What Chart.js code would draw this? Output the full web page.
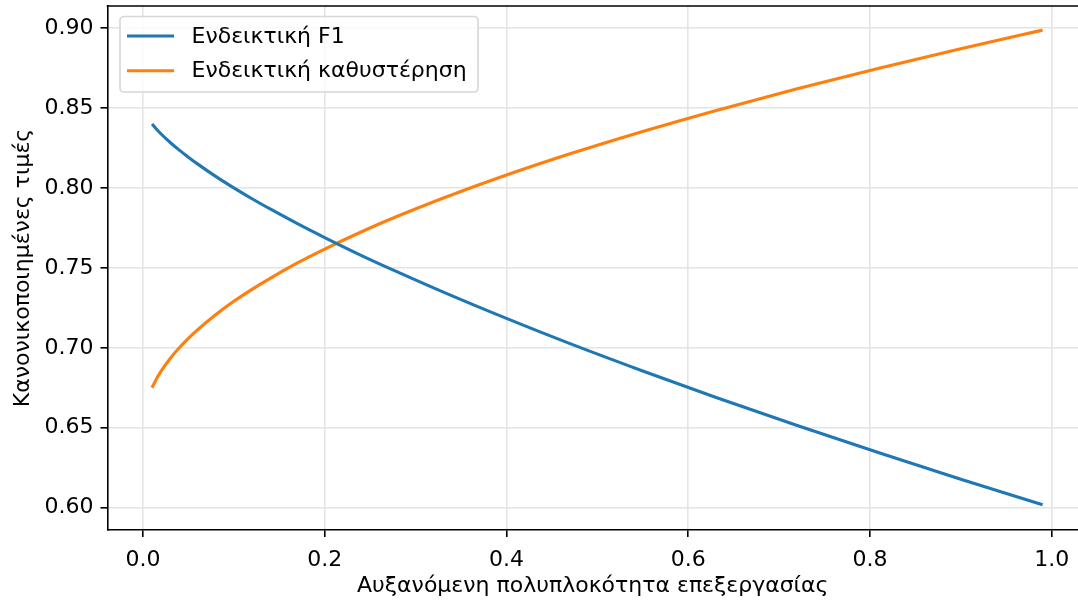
<!DOCTYPE html>
<html>
<head>
<meta charset="utf-8">
<script src="https://cdn.jsdelivr.net/npm/chart.js@4.4.1/dist/chart.umd.min.js"></script>
<style>
  html, body { margin: 0; padding: 0; background: #ffffff; }
  #wrap { width: 1078px; height: 605px; position: relative; }
</style>
</head>
<body>
<div id="wrap"><canvas id="c" width="1078" height="605"></canvas></div>
<script>
// ---- data ----
const xValues = [0.01, 0.015, 0.02, 0.03, 0.04, 0.05, 0.06, 0.08, 0.10, 0.12, 0.14, 0.17, 0.20, 0.24, 0.28, 0.33, 0.40, 0.47, 0.55, 0.63, 0.72, 0.81, 0.90, 0.99];
const f1Values = [0.8401, 0.8368, 0.8338, 0.8285, 0.8237, 0.8193, 0.8151, 0.8073, 0.8001, 0.7933, 0.7869, 0.7777, 0.7690, 0.7579, 0.7475, 0.7350, 0.7184, 0.7026, 0.6855, 0.6691, 0.6514, 0.6343, 0.6178, 0.6018];
const delayValues = [0.6750, 0.6806, 0.6854, 0.6933, 0.7000, 0.7059, 0.7112, 0.7207, 0.7291, 0.7366, 0.7435, 0.7531, 0.7618, 0.7725, 0.7823, 0.7936, 0.8081, 0.8214, 0.8354, 0.8484, 0.8621, 0.8750, 0.8872, 0.8988];
const seriesNames = ['Ενδεικτική F1', 'Ενδεικτική καθυστέρηση'];
const xTicks = [0.0, 0.2, 0.4, 0.6, 0.8, 1.0];
const xTickLabels = ['0.0', '0.2', '0.4', '0.6', '0.8', '1.0'];
const yTicks = [0.60, 0.65, 0.70, 0.75, 0.80, 0.85, 0.90];
const yTickLabels = ['0.60', '0.65', '0.70', '0.75', '0.80', '0.85', '0.90'];
const xTitle = 'Αυξανόμενη πολυπλοκότητα επεξεργασίας';
const yTitle = 'Κανονικοποιημένες τιμές';

const FONT = "'DejaVu Sans', 'Liberation Sans', sans-serif";
const FS = 22;
const colors = ['#1f77b4', '#ff7f0e'];

const toPoints = ys => xValues.map((x, i) => ({ x: x, y: ys[i] }));

const legendPlugin = {
  id: 'mplLegend',
  afterDatasetsDraw(chart) {
    const ctx = chart.ctx;
    const area = chart.chartArea;
    ctx.save();
    // top spine
    ctx.strokeStyle = '#000';
    ctx.lineWidth = 1.6;
    ctx.beginPath();
    ctx.moveTo(area.left - 0.8, area.top);
    ctx.lineTo(area.right, area.top);
    ctx.stroke();

    // legend box
    const bx = 120, by = 16.5, bw = 358, bh = 75.5, r = 4;
    ctx.beginPath();
    ctx.moveTo(bx + r, by);
    ctx.lineTo(bx + bw - r, by);
    ctx.arcTo(bx + bw, by, bx + bw, by + r, r);
    ctx.lineTo(bx + bw, by + bh - r);
    ctx.arcTo(bx + bw, by + bh, bx + bw - r, by + bh, r);
    ctx.lineTo(bx + r, by + bh);
    ctx.arcTo(bx, by + bh, bx, by + bh - r, r);
    ctx.lineTo(bx, by + r);
    ctx.arcTo(bx, by, bx + r, by, r);
    ctx.closePath();
    ctx.fillStyle = 'rgba(255,255,255,0.8)';
    ctx.fill();
    ctx.strokeStyle = '#d6d6d6';
    ctx.lineWidth = 1.6;
    ctx.stroke();

    const rows = [36, 70.7];
    ctx.font = FS + 'px ' + FONT;
    ctx.textBaseline = 'middle';
    ctx.textAlign = 'left';
    chart.data.datasets.forEach((ds, i) => {
      ctx.strokeStyle = ds.borderColor;
      ctx.lineWidth = 3.1;
      ctx.beginPath();
      ctx.moveTo(127, rows[i]);
      ctx.lineTo(174, rows[i]);
      ctx.stroke();
      ctx.fillStyle = '#000';
      ctx.fillText(ds.label, 191.5, rows[i] + 1);
    });
    ctx.restore();
  }
};

new Chart(document.getElementById('c'), {
  type: 'line',
  data: {
    datasets: [
      { label: seriesNames[0], data: toPoints(f1Values), borderColor: colors[0], backgroundColor: colors[0] },
      { label: seriesNames[1], data: toPoints(delayValues), borderColor: colors[1], backgroundColor: colors[1] }
    ]
  },
  options: {
    responsive: false,
    animation: false,
    devicePixelRatio: 1,
    layout: { padding: { top: 6, right: 0, left: 0, bottom: 0 } },
    elements: {
      point: { radius: 0, hoverRadius: 0 },
      line: { borderWidth: 3.1, cubicInterpolationMode: 'monotone', fill: false, borderCapStyle: 'butt' }
    },
    plugins: { legend: { display: false }, tooltip: { enabled: false }, title: { display: false } },
    scales: {
      x: {
        type: 'linear',
        min: -0.039,
        max: 1.029,
        afterBuildTicks: s => { s.ticks = xTicks.map(v => ({ value: v })); },
        afterFit: s => { s.height = 75; s.paddingLeft = 0; s.paddingRight = 0; },
        ticks: {
          callback: (v, i) => xTickLabels[i],
          font: { family: FONT, size: FS },
          color: '#000',
          padding: 10,
          maxRotation: 0,
          autoSkip: false
        },
        grid: { color: '#e4e4e4', lineWidth: 1.6, tickColor: '#000', tickLength: 7, tickWidth: 1.6, drawTicks: true },
        border: { display: true, color: '#000', width: 1.6 },
        title: { display: true, text: xTitle, font: { family: FONT, size: FS }, color: '#000', padding: { top: 0, bottom: 6 } }
      },
      y: {
        type: 'linear',
        min: 0.586,
        max: 0.9139,
        afterBuildTicks: s => { s.ticks = yTicks.map(v => ({ value: v })); },
        afterFit: s => { s.width = 107.5; s.paddingTop = 0; s.paddingBottom = 0; },
        ticks: {
          callback: (v, i) => yTickLabels[i],
          font: { family: FONT, size: FS },
          color: '#000',
          padding: 7,
          autoSkip: false
        },
        grid: { color: '#e4e4e4', lineWidth: 1.6, tickColor: '#000', tickLength: 7, tickWidth: 1.6, drawTicks: true },
        border: { display: true, color: '#000', width: 1.6 },
        title: { display: true, text: yTitle, font: { family: FONT, size: FS }, color: '#000', padding: { top: 10, bottom: 0 } }
      }
    }
  },
  plugins: [legendPlugin]
});
</script>
</body>
</html>
